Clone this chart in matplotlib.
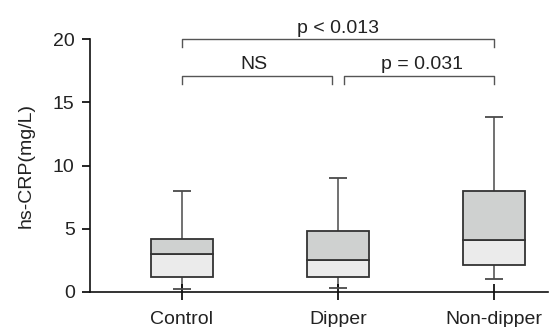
import numpy as np
import matplotlib.pyplot as plt

plt.rcParams['font.family'] = ['Liberation Sans', 'DejaVu Sans']

groups = ["Control", "Dipper", "Non-dipper"]
whisker_low = [0.25, 0.32, 1.05]
q1 = [1.2, 1.2, 2.1]
median = [3.0, 2.5, 4.15]
q3 = [4.2, 4.8, 8.0]
whisker_high = [8.0, 9.05, 13.85]

fig = plt.figure(figsize=(5.52, 3.27), dpi=100)
ax = fig.add_axes([90 / 552, 1 - 292 / 327, 458 / 552, 253 / 327])

pos = np.arange(1, len(groups) + 1)
w = 0.4
edge = "#333333"
# whiskers and caps
ax.vlines(pos, whisker_low, q1, color="#4a4a4a", lw=1.1, zorder=1)
ax.vlines(pos, q3, whisker_high, color="#4a4a4a", lw=1.1, zorder=1)
ax.hlines(whisker_low, pos - 0.055, pos + 0.055, color="#4a4a4a", lw=1.3)
ax.hlines(whisker_high, pos - 0.055, pos + 0.055, color="#4a4a4a", lw=1.3)
# two-tone boxes
ax.bar(pos, np.array(median) - np.array(q1), w, bottom=q1, color="#ebebeb",
       edgecolor=edge, lw=1.3, zorder=2)
ax.bar(pos, np.array(q3) - np.array(median), w, bottom=median, color="#cfd1d0",
       edgecolor=edge, lw=1.3, zorder=2)

# significance brackets
br = "#555555"
def bracket(x0, x1, y, drop):
    ax.plot([x0, x0, x1, x1], [y - drop, y, y, y - drop], color=br, lw=1.0,
            clip_on=False)

bracket(1, 3, 20.0, 0.63)
bracket(1, 1.964, 17.07, 0.63)
bracket(2.04, 3, 17.07, 0.63)
ax.text(2.0, 20.45, "p < 0.013", ha="center", va="baseline", fontsize=14,
        color="#222222")
ax.text(1.46, 17.66, "NS", ha="center", va="baseline", fontsize=14,
        color="#222222")
ax.text(2.536, 17.66, "p = 0.031", ha="center", va="baseline", fontsize=14,
        color="#222222")

ax.set_xlim(1 - 92 / 156, 3 + 54 / 156)
ax.set_ylim(0, 20)
ax.set_yticks([0, 5, 10, 15, 20])
ax.set_xticks(pos)
ax.set_xticklabels(groups)
ax.set_ylabel("hs-CRP(mg/L)", fontsize=14, color="#222222")
ax.yaxis.set_label_coords(-0.12, 0.5)

for s in ["top", "right"]:
    ax.spines[s].set_visible(False)
for s in ["left", "bottom"]:
    ax.spines[s].set_linewidth(1.2)
    ax.spines[s].set_color("#111111")
ax.tick_params(axis="y", direction="out", length=6, width=1.2, pad=5,
               labelsize=14, labelcolor="#222222")
ax.tick_params(axis="x", direction="inout", length=11, width=1.2, pad=8,
               labelsize=14, labelcolor="#222222")

fig.savefig("out.png", dpi=100)
